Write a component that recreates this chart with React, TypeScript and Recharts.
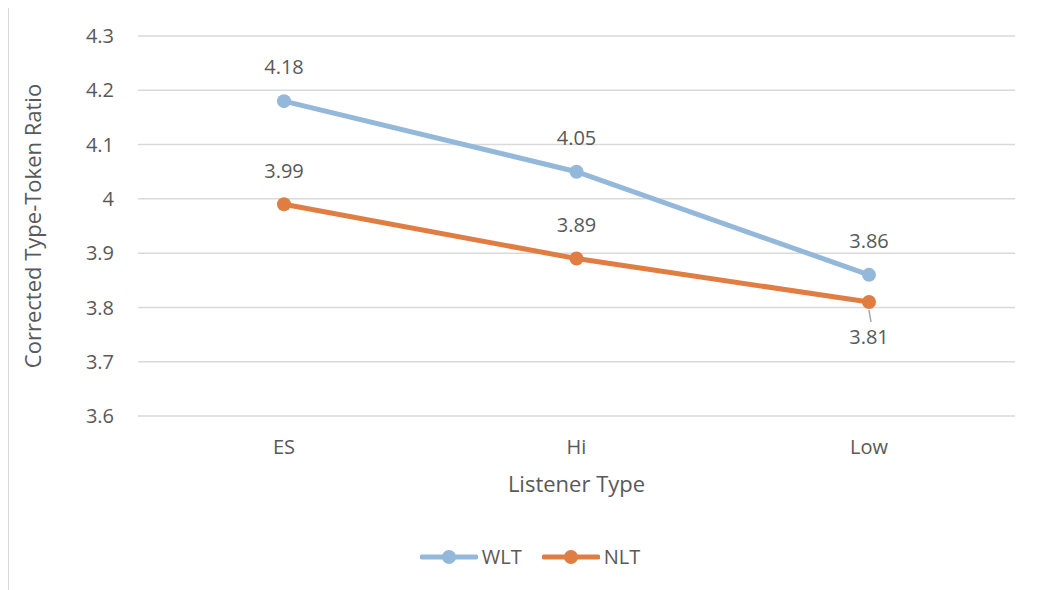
import { LineChart, Line, XAxis, YAxis, CartesianGrid, Legend, LabelList } from 'recharts';

const categories = ['ES', 'Hi', 'Low'];
const wltValues = [4.18, 4.05, 3.86];
const nltValues = [3.99, 3.89, 3.81];
const yTicks = [3.6, 3.7, 3.8, 3.9, 4, 4.1, 4.2, 4.3];

const series = [
  { key: 'WLT', color: '#94b8d9' },
  { key: 'NLT', color: '#e07d43' },
];

const data = categories.map((c, i) => ({ name: c, WLT: wltValues[i], NLT: nltValues[i] }));

const FONT = '"Open Sans", sans-serif';
const TEXT = '#595959';

// labels sit above the point; the last NLT one goes below with a small leader line
const makeLabel = (below: (i: number) => boolean) => (props: any) => {
  const { x, y, value, index } = props;
  if (x === undefined || y === undefined) return null;
  if (below(index)) {
    return (
      <g key={`lb-${index}`}>
        <line x1={x} y1={y + 8} x2={x + 2} y2={y + 20} stroke="#a6a6a6" strokeWidth={1.5} />
        <text x={x} y={y + 37} textAnchor="middle" dominantBaseline="middle" fontSize={20} fill={TEXT} fontFamily={FONT}>
          {value}
        </text>
      </g>
    );
  }
  return (
    <text key={`lb-${index}`} x={x} y={y - 32} textAnchor="middle" dominantBaseline="middle" fontSize={20} fill={TEXT} fontFamily={FONT}>
      {value}
    </text>
  );
};

const renderLegend = () => (
  <div style={{ display: 'flex', justifyContent: 'center', gap: 20, paddingLeft: 36, fontFamily: FONT, fontSize: 20, color: TEXT }}>
    {series.map((s) => (
      <div key={s.key} style={{ display: 'flex', alignItems: 'center' }}>
        <svg width={58} height={20}>
          <line x1={2} y1={10} x2={56} y2={10} stroke={s.color} strokeWidth={5} strokeLinecap="round" />
          <circle cx={29} cy={10} r={7} fill={s.color} />
        </svg>
        <span style={{ marginLeft: 4 }}>{s.key}</span>
      </div>
    ))}
  </div>
);

export default function App() {
  return (
    <div style={{ width: 1040, height: 590, marginTop: -1, borderTop: '1.5px solid #d9d9d9', borderLeft: '1.5px solid #d9d9d9', background: '#fff' }}>
      <LineChart width={1032} height={582} data={data} margin={{ top: 28, right: 26, left: 0, bottom: 57 }}>
        <CartesianGrid vertical={false} stroke="#d9d9d9" strokeWidth={1.5} />
        <XAxis
          dataKey="name"
          axisLine={false}
          tickLine={false}
          padding={{ left: 146, right: 146 }}
          tick={{ fill: TEXT, fontSize: 20, fontFamily: FONT }}
          tickMargin={18}
          height={90}
          label={{ value: 'Listener Type', position: 'insideBottom', offset: 14, fill: TEXT, fontSize: 22, fontFamily: FONT }}
        />
        <YAxis
          domain={[3.6, 4.3]}
          ticks={yTicks}
          axisLine={false}
          tickLine={false}
          width={129}
          tick={{ fill: TEXT, fontSize: 20, fontFamily: FONT }}
          tickMargin={18}
          label={{ value: 'Corrected Type-Token Ratio', angle: -90, position: 'insideLeft', offset: 24, style: { textAnchor: 'middle' }, fill: TEXT, fontSize: 22, fontFamily: FONT }}
        />
        <Legend verticalAlign="bottom" wrapperStyle={{ bottom: 20 }} content={renderLegend} />
        <Line dataKey="WLT" stroke={series[0].color} strokeWidth={5} dot={{ r: 7, fill: series[0].color, stroke: series[0].color, strokeWidth: 0 }} isAnimationActive={false}>
          <LabelList dataKey="WLT" content={makeLabel(() => false)} />
        </Line>
        <Line dataKey="NLT" stroke={series[1].color} strokeWidth={5} dot={{ r: 7, fill: series[1].color, stroke: series[1].color, strokeWidth: 0 }} isAnimationActive={false}>
          <LabelList dataKey="NLT" content={makeLabel((i) => i === 2)} />
        </Line>
      </LineChart>
    </div>
  );
}
